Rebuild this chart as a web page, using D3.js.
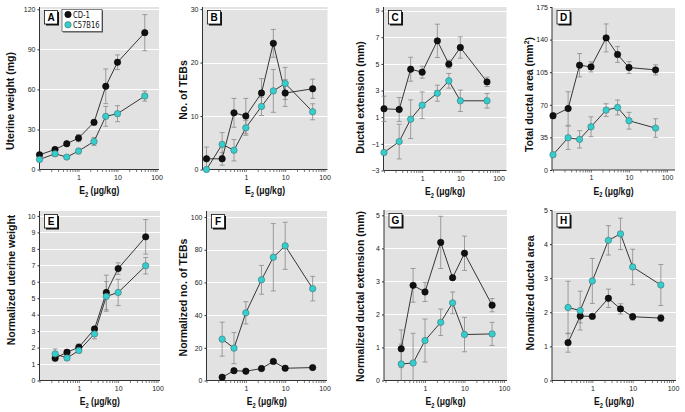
<!DOCTYPE html>
<html>
<head>
<meta charset="utf-8">
<script src="https://cdn.jsdelivr.net/npm/d3@7"></script>
<style>
  body { margin: 0; background: #fff; }
  svg { display: block; font-family: "Liberation Sans Narrow", "Arial Narrow", "DejaVu Sans Condensed", "Liberation Sans", Arial, sans-serif; }
  .tick-label { font-size: 7px; fill: #222; }
  .y-title { font-size: 10.5px; font-weight: bold; fill: #111; font-family: "Liberation Sans", Arial, sans-serif; }
  .x-title { font-size: 10.5px; font-weight: bold; fill: #111; font-family: "Liberation Sans", Arial, sans-serif; }
</style>
</head>
<body>
<div id="chart"></div>
<script>
// doses (ug/kg)
const dosesTop = [0.1, 0.25, 0.5, 1, 2.5, 5, 10, 50];
const dosesBottom = [0.25, 0.5, 1, 2.5, 5, 10, 50];

// A - uterine weight (mg)
const uterineCD1 = [11, 15, 19.3, 23.5, 35.3, 62.3, 80.3, 102.5];
const uterineCD1Err = [1.5, 1.5, 1.5, 2.7, 2, 13, 5.5, 13.5];
const uterineC57 = [7.5, 11.8, 9.3, 13.8, 21, 39.8, 41.8, 55];
const uterineC57Err = [1, 2, 1, 2, 3, 7.4, 6, 3.8];

// B - no. of TEBs
const tebCD1 = [2, 2, 10.6, 10, 14.3, 23.6, 14.3, 15.1];
const tebCD1Err = [2.2, 1.2, 2.7, 3.3, 2.7, 2.6, 2.5, 1.8];
const tebC57 = [0, 4.7, 3.6, 7.8, 11.8, 14.7, 16.1, 10.8];
const tebC57Err = [0, 2.2, 2, 1.4, 1.7, 4, 3, 1.5];

// C - ductal extension (mm)
const ductCD1 = [1.63, 1.58, 4.6, 4.38, 6.73, 4.98, 6.23, 3.65];
const ductCD1Err = [0.95, 0.9, 0.9, 0.45, 1.25, 0.3, 0.8, 0.35];
const ductC57 = [-1.65, -0.83, 0.85, 1.9, 2.8, 3.73, 2.23, 2.23];
const ductC57Err = [0, 1.3, 1.45, 1.0, 0.6, 0.55, 0.8, 0.55];

// D - total ductal area (mm2)
const areaCD1 = [58.2, 66, 112.5, 110.7, 141.8, 124, 110, 107.5];
const areaCD1Err = [3, 18, 12.5, 5.4, 15, 8.5, 6.3, 5.4];
const areaC57 = [16.4, 34.6, 32.9, 46.4, 64.3, 67.1, 52.9, 45];
const areaC57Err = [0, 12.5, 9.3, 10.7, 6.8, 8, 9, 10];

// E - normalized uterine weight
const nUterineCD1 = [1.35, 1.72, 2.02, 3.13, 5.35, 6.8, 8.73];
const nUterineCD1Err = [0.1, 0.15, 0.2, 0.15, 1.05, 0.35, 1.05];
const nUterineC57 = [1.62, 1.37, 1.82, 2.83, 5.11, 5.35, 6.97];
const nUterineC57Err = [0.3, 0.15, 0.1, 0.3, 0.9, 0.8, 0.5];

// F - normalized no. of TEBs
const nTebCD1 = [2, 6, 5.7, 7.3, 11.7, 7.5, 7.9];
const nTebCD1Err = [0, 0, 0, 0, 0, 0, 0];
const nTebC57 = [25.3, 19.8, 41.4, 61.6, 75.4, 82.4, 56.2];
const nTebC57Err = [10.4, 9.5, 6.8, 8.8, 20.6, 14.4, 7.5];

// G - normalized ductal extension (mm)
const nDuctCD1 = [0.96, 2.88, 2.68, 4.18, 3.11, 3.85, 2.28];
const nDuctCD1Err = [0.57, 0.51, 0.29, 0.79, 0.05, 0.52, 0.2];
const nDuctC57 = [0.5, 0.53, 1.21, 1.76, 2.35, 1.39, 1.41];
const nDuctC57Err = [0.6, 0.9, 0.65, 0.4, 0.33, 0.52, 0.35];

// H - normalized ductal area
const nAreaCD1 = [1.11, 1.89, 1.88, 2.41, 2.1, 1.87, 1.83];
const nAreaCD1Err = [0.28, 0.2, 0.05, 0.27, 0.15, 0.1, 0.1];
const nAreaC57 = [2.14, 2.05, 2.92, 4.11, 4.3, 3.33, 2.8];
const nAreaC57Err = [0.77, 0.57, 0.66, 0.43, 0.46, 0.52, 0.6];

const seriesNames = ['CD-1', 'C57B16'];
const xTickLabels = [1, 10, 100];

const panels = [
    { id: 'A', title: 'Uterine weight (mg)', doses: dosesTop, cd1: uterineCD1, cd1Err: uterineCD1Err, c57: uterineC57, c57Err: uterineC57Err, yTicks: [0, 30, 60, 90, 120], yMax: 121.7, yMin: 0 },
    { id: 'B', title: 'No. of TEBs', doses: dosesTop, cd1: tebCD1, cd1Err: tebCD1Err, c57: tebC57, c57Err: tebC57Err, yTicks: [0, 10, 20, 30], yMax: 30.4, yMin: 0 },
    { id: 'C', title: 'Ductal extension (mm)', doses: dosesTop, cd1: ductCD1, cd1Err: ductCD1Err, c57: ductC57, c57Err: ductC57Err, yTicks: [-3, -1, 1, 3, 5, 7, 9], yMax: 9.27, yMin: -3 },
    { id: 'D', title: 'Total ductal area (mm', sup: '2', doses: dosesTop, cd1: areaCD1, cd1Err: areaCD1Err, c57: areaC57, c57Err: areaC57Err, yTicks: [0, 35, 70, 105, 140, 175], yMax: 175, yMin: 0 },
    { id: 'E', title: 'Normalized uterine weight', doses: dosesBottom, cd1: nUterineCD1, cd1Err: nUterineCD1Err, c57: nUterineC57, c57Err: nUterineC57Err, yTicks: d3.range(0, 11), yMax: 10.3, yMin: 0 },
    { id: 'F', title: 'Normalized no. of TEBs', doses: dosesBottom, cd1: nTebCD1, cd1Err: nTebCD1Err, c57: nTebC57, c57Err: nTebC57Err, yTicks: [0, 20, 40, 60, 80, 100], yMax: 103.7, yMin: 0 },
    { id: 'G', title: 'Normalized ductal extension (mm)', doses: dosesBottom, cd1: nDuctCD1, cd1Err: nDuctCD1Err, c57: nDuctC57, c57Err: nDuctC57Err, yTicks: d3.range(0, 6), yMax: 5.16, yMin: 0 },
    { id: 'H', title: 'Normalized ductal area', doses: dosesBottom, cd1: nAreaCD1, cd1Err: nAreaCD1Err, c57: nAreaC57, c57Err: nAreaC57Err, yTicks: d3.range(0, 6), yMax: 5, yMin: 0 }
];

// panel geometry (pixel positions)
const layout = [
    { left: 39.5, right: 159, p01: 39.5, p100: 156.5, top: 7, bottom: 169.5, titleX: 10.5, titleY: 101 },
    { left: 202.5, right: 327.5, p01: 206.5, p100: 324.5, top: 7, bottom: 169.5, titleX: 183.5, titleY: 90 },
    { left: 383.5, right: 506.5, p01: 384, p100: 498.5, top: 7, bottom: 170.5, titleX: 360, titleY: 97.5 },
    { left: 552, right: 675, p01: 553, p100: 667, top: 7, bottom: 170, titleX: 529, titleY: 94.5 },
    { left: 39.5, right: 160, p01: 39.5, p100: 157.5, top: 211, bottom: 380.5, titleX: 11.5, titleY: 280 },
    { left: 206.5, right: 327, p01: 206.5, p100: 324.5, top: 211, bottom: 380.5, titleX: 183.5, titleY: 297.5 },
    { left: 384, right: 507, p01: 385.5, p100: 504, top: 210, bottom: 380.5, titleX: 360, titleY: 296.5 },
    { left: 552, right: 676, p01: 552, p100: 673, top: 210, bottom: 380.5, titleX: 530, titleY: 293 }
];

const black = '#111';
const cyan = '#33cfcf';
const errColor = '#8a8a8a';

const svg = d3.select('#chart').append('svg')
    .attr('width', 685)
    .attr('height', 412);

panels.forEach((p, i) => {
    const L = layout[i];
    const x = d3.scaleLog().domain([0.1, 100]).range([L.p01, L.p100]);
    const y = d3.scaleLinear().domain([p.yMin, p.yMax]).range([L.bottom, L.top]);
    const g = svg.append('g');

    // background
    g.append('rect')
        .attr('x', L.left).attr('y', L.top)
        .attr('width', L.right - L.left).attr('height', L.bottom - L.top)
        .attr('fill', '#e2e2e2');

    // white grid lines
    g.selectAll('.grid')
        .data(p.yTicks.filter(t => t > p.yMin))
        .enter().append('line')
        .attr('x1', L.left).attr('x2', L.right)
        .attr('y1', d => Math.round(y(d)) + 0.5).attr('y2', d => Math.round(y(d)) + 0.5)
        .attr('stroke', '#fff').attr('stroke-width', 1);

    // y axis
    const yAxis = g.append('g')
        .attr('transform', `translate(${L.left},0)`)
        .call(d3.axisLeft(y).tickValues(p.yTicks).tickSize(2).tickPadding(2).tickFormat(d => d < 0 ? '\u2212' + Math.abs(d) : d));
    yAxis.select('.domain').attr('d', `M0,${L.top}V${L.bottom}`).attr('stroke', '#333');
    yAxis.selectAll('.tick line').attr('stroke', '#333');
    yAxis.selectAll('.tick text').attr('class', 'tick-label').attr('font-size', null).attr('font-family', null);

    // x axis with minor log ticks
    const allTicks = [];
    [0.1, 1, 10].forEach(dec => {
        for (let k = 1; k < 10; k++) allTicks.push(dec * k);
    });
    allTicks.push(100);
    const xAxis = g.append('g')
        .attr('transform', `translate(0,${L.bottom})`)
        .call(d3.axisBottom(x).tickValues(allTicks.filter(t => x(t) >= L.left - 0.1))
            .tickSize(2.5).tickPadding(3)
            .tickFormat(d => xTickLabels.includes(Math.round(d * 1000) / 1000) ? d3.format('d')(d) : ''));
    xAxis.select('.domain').attr('d', `M${L.left},0H${L.right}`).attr('stroke', '#333');
    xAxis.selectAll('.tick line').attr('stroke', '#444').attr('stroke-width', 0.7);
    xAxis.selectAll('.tick text').attr('class', 'tick-label').attr('font-size', null).attr('font-family', null);

    // x title E2 (ug/kg)
    const xt = g.append('text')
        .attr('class', 'x-title')
        .attr('x', (L.left + L.right) / 2 - 20)
        .attr('y', L.bottom + 24.5)
        .attr('textLength', 40)
        .attr('lengthAdjust', 'spacingAndGlyphs');
    xt.append('tspan').text('E');
    xt.append('tspan').attr('font-size', '7px').attr('dy', 2.5).text('2');
    xt.append('tspan').attr('dy', -2.5).text(' (\u03bcg/kg)');

    // y title
    const yt = g.append('text')
        .attr('class', 'y-title')
        .attr('transform', `translate(${L.titleX + 3.5},${L.titleY}) rotate(-90)`)
        .attr('text-anchor', 'middle')
        .text(p.title);
    if (p.sup) {
        yt.append('tspan').attr('font-size', '7px').attr('dy', -4).text(p.sup);
        yt.append('tspan').attr('dy', 4).text(')');
    }

    // series
    const series = [
        { vals: p.cd1, err: p.cd1Err, fill: black },
        { vals: p.c57, err: p.c57Err, fill: cyan }
    ];
    const line = d3.line().x(d => x(d.dose)).y(d => y(d.v));

    series.forEach(s => {
        const pts = p.doses.map((dose, j) => ({ dose, v: s.vals[j], e: s.err[j] }));
        const eb = g.append('g');
        pts.filter(d => d.e > 0).forEach(d => {
            const cx = x(d.dose);
            eb.append('line').attr('x1', cx).attr('x2', cx)
                .attr('y1', y(d.v + d.e)).attr('y2', Math.min(L.bottom, y(d.v - d.e)))
                .attr('stroke', errColor).attr('stroke-width', 0.8);
            [d.v + d.e, d.v - d.e].forEach(v => {
                if (y(v) > L.bottom) return;
                eb.append('line').attr('x1', cx - 2.5).attr('x2', cx + 2.5)
                    .attr('y1', y(v)).attr('y2', y(v))
                    .attr('stroke', errColor).attr('stroke-width', 0.8);
            });
        });
        s.pts = pts;
    });

    series.forEach(s => {
        g.append('path')
            .datum(s.pts)
            .attr('d', line)
            .attr('fill', 'none')
            .attr('stroke', '#222')
            .attr('stroke-width', 0.9);
    });

    series.forEach(s => {
        g.selectAll(null)
            .data(s.pts)
            .enter().append('circle')
            .attr('cx', d => x(d.dose))
            .attr('cy', d => y(d.v))
            .attr('r', 3.2)
            .attr('fill', s.fill)
            .attr('stroke', s.fill === black ? '#000' : '#4a6f6f')
            .attr('stroke-width', 0.6);
    });

    // panel letter box
    const bx = L.left + 5, by = L.top + 3.5;
    g.append('rect').attr('x', bx + 1.5).attr('y', by + 1.5).attr('width', 13).attr('height', 13.5).attr('fill', '#111');
    g.append('rect').attr('x', bx).attr('y', by).attr('width', 13).attr('height', 13.5)
        .attr('fill', '#fff').attr('stroke', '#111').attr('stroke-width', 0.8);
    g.append('text')
        .attr('x', bx + 6.5).attr('y', by + 10.5)
        .attr('text-anchor', 'middle')
        .attr('font-size', '10px').attr('font-weight', 'bold')
        .attr('font-family', 'Liberation Sans, Arial, sans-serif')
        .text(p.id);

    // legend in panel A
    if (i === 0) {
        const lx = 62, ly = 9.5;
        const textLen = [17, 26.5];
        g.append('rect').attr('x', lx + 1).attr('y', ly + 1).attr('width', 40).attr('height', 22).attr('fill', '#555');
        g.append('rect').attr('x', lx).attr('y', ly).attr('width', 40).attr('height', 22)
            .attr('fill', '#fff').attr('stroke', '#333').attr('stroke-width', 0.6);
        seriesNames.forEach((name, k) => {
            const cy = ly + 5 + k * 10.3;
            g.append('circle').attr('cx', lx + 6).attr('cy', cy).attr('r', 3.2)
                .attr('fill', k === 0 ? black : cyan)
                .attr('stroke', k === 0 ? '#000' : '#4a6f6f').attr('stroke-width', 0.6);
            g.append('text').attr('x', lx + 11).attr('y', cy + 3.2)
                .attr('font-size', '9px').attr('fill', '#111')
                .attr('textLength', textLen[k]).attr('lengthAdjust', 'spacingAndGlyphs')
                .text(name);
        });
    }
});
</script>
</body>
</html>
